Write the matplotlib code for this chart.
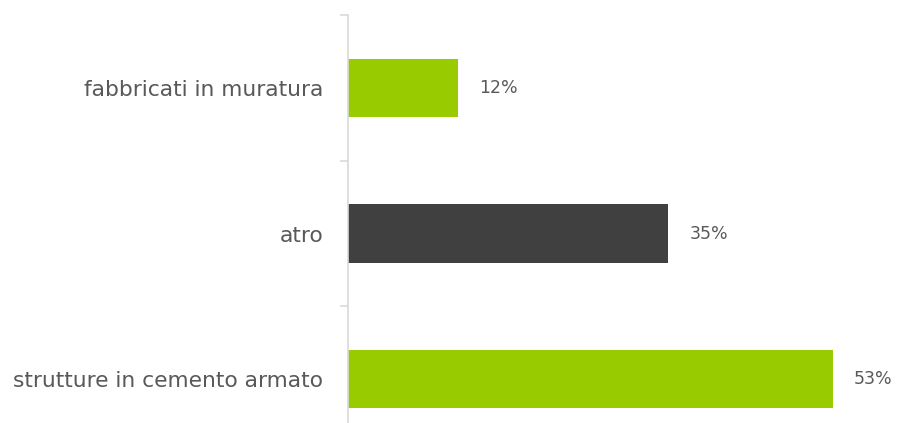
import matplotlib.pyplot as plt
import numpy as np

categories = ["fabbricati in muratura", "atro", "strutture in cemento armato"]
values = [12, 35, 53]
colors = ["#99CC00", "#404040", "#99CC00"]

plt.rcParams['font.family'] = ['DejaVu Sans']

fig = plt.figure(figsize=(8.97, 4.23), dpi=100)
# axes run past the bottom edge, as in the cropped original
ax = fig.add_axes([348 / 897, -29 / 423, 549 / 897, 437 / 423])

y = np.arange(len(categories))
ax.barh(y, values, height=0.4, color=colors)
ax.set_ylim(len(categories) - 0.5, -0.5)
ax.set_xlim(0, 60)

for yi, v in zip(y, values):
    ax.text(v + 2.3, yi, f"{v}%", va="center", ha="left", fontsize=12.5, color="#595959")

ax.set_yticks(y)
ax.set_yticklabels(categories, fontsize=15.7, color="#595959")
ax.tick_params(axis="y", which="major", length=0, pad=18)
ax.set_yticks(np.arange(len(categories) + 1) - 0.5, minor=True)
ax.tick_params(axis="y", which="minor", length=6, color="#D9D9D9", width=1.2)
ax.set_xticks([])

for s in ["top", "right", "bottom"]:
    ax.spines[s].set_visible(False)
ax.spines["left"].set_color("#D9D9D9")
ax.spines["left"].set_linewidth(1.2)

fig.savefig("out.png", dpi=100)
plt.close(fig)
